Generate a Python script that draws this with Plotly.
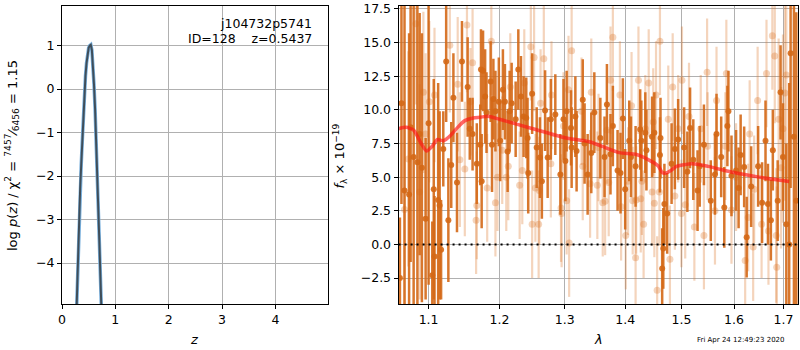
import plotly.graph_objects as go

# ---------------- p(z) panel data ----------------
pz_z = [0.26, 0.28, 0.30, 0.32, 0.34, 0.36, 0.38, 0.40, 0.42, 0.44, 0.46, 0.48, 0.50,
        0.52, 0.54, 0.56, 0.58, 0.60, 0.62, 0.64, 0.66, 0.68, 0.70, 0.72, 0.74, 0.76]
pz_logp = [-5.6, -4.7, -3.8, -3.0, -2.3, -1.75, -1.2, -0.6, -0.1, 0.3, 0.6, 0.85, 0.95,
           1.0, 1.02, 0.9, 0.55, 0.1, -0.45, -1.1, -1.85, -2.65, -3.5, -4.3, -5.1, -5.9]

# ---------------- spectrum data (dark = binned/primary) ----------------
dark_wave = [1.062, 1.064, 1.068, 1.074, 1.076, 1.080, 1.085, 1.088, 1.091, 1.096, 1.100,
             1.105, 1.107, 1.108, 1.113, 1.115, 1.117, 1.120, 1.124, 1.127, 1.131, 1.134,
             1.139, 1.146, 1.154, 1.157, 1.161, 1.167,
             1.172, 1.173, 1.174, 1.176, 1.179, 1.181, 1.187, 1.189, 1.191, 1.194, 1.199,
             1.201, 1.205, 1.208, 1.212, 1.215, 1.218, 1.224, 1.228, 1.232, 1.236, 1.240,
             1.242, 1.243, 1.249, 1.256, 1.261, 1.264, 1.269, 1.273, 1.278, 1.285,
             1.293, 1.298, 1.301, 1.303, 1.310, 1.311, 1.317, 1.319, 1.329, 1.332, 1.337,
             1.343, 1.348, 1.358, 1.365, 1.369, 1.375, 1.379, 1.387, 1.392, 1.396, 1.400,
             1.407, 1.410, 1.418,
             1.426, 1.428, 1.435, 1.437, 1.447, 1.451, 1.461, 1.462, 1.465, 1.467, 1.469,
             1.474, 1.482, 1.488, 1.494, 1.505, 1.511, 1.516, 1.522, 1.530, 1.534, 1.542,
             1.555, 1.563, 1.566,
             1.575, 1.581, 1.587, 1.589, 1.595, 1.604, 1.609, 1.613, 1.620, 1.625, 1.634,
             1.648, 1.656, 1.663, 1.668, 1.674, 1.678, 1.688, 1.694, 1.699, 1.706, 1.712,
             1.715, 1.722, 1.727]
dark_flux = [-2.5, 10.5, 4.0, 3.7, 8.7, 6.5, 6.1, 8.2, 5.7, 1.9, 9.0,
             -2.3, 4.1, -0.9, 3.3, 2.9, -0.4, 7.1, 13.6, 1.8, 5.9, 10.9,
             4.6, 13.6, 11.7, 8.6, 8.2, 6.0,
             7.4, 13.0, 4.7, 12.9, 11.0, 9.8, 12.1, 7.4, 10.8, 9.9, 10.6,
             7.7, 11.5, 10.6, 6.9, 9.9, 10.5, 9.3, 13.0, 11.0, 9.5, 9.4,
             7.9, 5.3, 11.2, 7.2, 6.45, 4.7, 9.95, 6.45, 9.3, 9.65,
             5.2, 9.3, 6.2, 9.9, 8.66, 7.2, 9.5, 6.94, 10.76, 7.5, 5.2,
             6.8, 9.8, 7.9, 6.5, 10.4, 6.7, 8.8, 5.5, 5.3, 9.35, 4.1,
             7.7, 6.5, 5.8,
             8.54, 7.7, 8.3, 7.0, 8.0, 8.3, 6.65, 7.9, -1.8, -0.3, 3.0,
             2.3, 6.0, 7.1, 7.8, 7.2, 5.4, 8.66, 6.3, 4.0, 5.8, 7.4,
             3.25, 5.2, 8.2,
             6.5, 2.75, 8.8, 9.9, 5.1, 5.5, 4.2, 6.65, 5.76, 0.54, 4.3,
             5.8, 3.1, 7.7, 3.0, 1.8, 7.0, 3.25, 11.3, 6.5, 1.5, 0.0,
             14.2, 8.0, 3.25]
dark_err = [4.5, 7.5, 14, 12, 10, 12, 12, 9, 10, 6, 12,
            4, 8.2, 4.5, 8.7, 7, 3.7, 2.8, 4.5, 4.6, 3.2, 3.3,
            3.7, 3, 3.7, 2.3, 2.7, 3,
            3, 3, 3.5, 3, 3.5, 3, 3, 3.5, 3, 3, 3.3,
            3, 3, 2.8, 3, 3, 3, 2.8, 3, 3, 3, 3,
            3, 3, 3, 3, 3, 2.8, 3, 3, 3, 3,
            3, 3, 3, 3, 2.8, 3, 3, 3, 3, 3, 3,
            3, 3, 3, 3, 3, 3, 3, 3, 3, 3, 3,
            3, 3, 3,
            3, 3, 3, 3, 3, 3, 2.8, 3, 3, 3, 3,
            3, 3, 3, 3, 3, 3, 3, 3, 3, 3, 3,
            3, 3, 3,
            3, 3, 3, 3, 3, 3, 3, 3, 3, 3, 3,
            3, 3, 3, 3, 3, 3, 3, 3.5, 4, 6, 12,
            10, 14, 14]

# ---------------- spectrum data (light = individual exposures) ----------------
light_wave = [1.068, 1.073, 1.083, 1.088, 1.093, 1.096, 1.101, 1.108, 1.129, 1.140,
              1.143, 1.150, 1.153, 1.158, 1.161, 1.166, 1.167,
              1.182, 1.188, 1.194, 1.197, 1.204, 1.210, 1.213, 1.216, 1.230, 1.234,
              1.237, 1.247, 1.249, 1.252, 1.254, 1.259, 1.260, 1.262, 1.267, 1.278, 1.279,
              1.294, 1.295, 1.298, 1.303, 1.306, 1.307, 1.311, 1.327, 1.329, 1.341, 1.343,
              1.353, 1.355, 1.362, 1.366, 1.369, 1.372, 1.375, 1.379, 1.391, 1.393, 1.401,
              1.405, 1.411, 1.413, 1.418, 1.419, 1.423,
              1.427, 1.429, 1.432, 1.435, 1.441, 1.447, 1.449, 1.451, 1.454, 1.456, 1.460,
              1.461, 1.476, 1.479, 1.484, 1.488, 1.494, 1.500, 1.501, 1.507, 1.514, 1.524,
              1.536, 1.542, 1.548, 1.549, 1.563, 1.566,
              1.583, 1.585, 1.595, 1.604, 1.622, 1.628, 1.631, 1.638, 1.640, 1.647, 1.655,
              1.665, 1.669, 1.677, 1.682, 1.685, 1.686, 1.690, 1.695, 1.699, 1.703, 1.706]
light_flux = [2.6, 6.35, 16.4, 3.9, 11.3, 8.2, 10.6, 11.1, 14.8, 11.9,
              6.3, 5.6, 16.3, 10.6, 13.5, 1.8, 2.9,
              4.2, 15.1, 3.1, 5.0, 7.0, 5.0, 5.8, 11.7, 4.4, 5.5,
              12.0, 14.7, 1.5, 13.9, 4.2, 1.5, 4.0, 10.5, 13.8, 6.0, 11.1,
              2.7, 2.3, 8.8, 3.25, 11.5, 0.1, 14.4, 9.9, 5.8, 4.5, 11.3,
              4.4, 7.2, 3.1, 3.2, 8.5, 4.6, 12.2, 15.4, 11.1, 2.8, 0.66,
              4.7, 10.3, 3.25, -1.0, 3.3, 12.2,
              3.4, 4.7, 1.5, 8.6, 12.0, 3.9, 9.1, 3.05, 11.1, -3.4, 3.9,
              15.1, 9.3, -1.1, 11.7, 3.6, 8.6, 2.3, 12.2, 2.95, 9.5, 1.3,
              8.6, 0.66, 12.8, 7.3, 2.5, 10.7,
              7.3, 12.7, 2.56, 5.0, -1.2, 2.0, 8.2, -0.2, 4.1, 10.7, 1.5,
              12.7, 1.0, 15.5, 14.0, 0.66, -1.7, 9.3, 5.7, 8.6, 11.25, 12.6]
light_err = [8, 8, 6, 8, 6, 6, 6, 5, 5, 5,
             5, 5, 5, 4, 4, 4, 4,
             4, 4, 4, 4, 4, 4, 4, 4, 4, 4,
             4, 4, 4, 4, 4, 4, 4, 4, 4, 4, 4,
             4, 4, 4, 4, 4, 4, 4, 4, 4, 4, 4,
             4, 4, 4, 4, 4, 4, 4, 4, 4, 4, 4,
             4, 4, 4, 4, 4, 4,
             4, 4, 4, 4, 4, 4, 4, 4, 4, 4, 4,
             4, 4, 4, 4, 4, 4, 4, 4, 4, 4, 4,
             4, 4, 4, 4, 4, 4,
             4, 4, 4, 4, 4, 4, 4, 4, 4, 4, 4,
             4, 4, 4, 5, 5, 6, 6, 6, 7, 8, 8]

# ---------------- model ----------------
model_wave = [1.060, 1.070, 1.080, 1.090, 1.097, 1.105, 1.112, 1.120, 1.130, 1.140, 1.150,
              1.162, 1.172, 1.183, 1.200, 1.250, 1.300, 1.340, 1.390, 1.418, 1.440, 1.458,
              1.465, 1.472, 1.480, 1.490, 1.520, 1.550, 1.600, 1.650, 1.690, 1.712]
model_flux = [8.6, 8.7, 8.5, 7.5, 6.95, 7.3, 7.8, 7.7, 8.1, 8.7, 9.2,
              9.4, 9.45, 9.53, 9.3, 8.6, 7.93, 7.63, 6.82, 6.7, 6.3, 5.83,
              5.34, 5.3, 5.47, 5.78, 6.0, 5.8, 5.34, 5.0, 4.78, 4.68]

left_xticks = [0, 1, 2, 3, 4]
left_yticks = [-4, -3, -2, -1, 0, 1]
right_xticks = [1.1, 1.2, 1.3, 1.4, 1.5, 1.6, 1.7]
right_xticktext = ["1.1", "1.2", "1.3", "1.4", "1.5", "1.6", "1.7"]
right_yticks = [-2.5, 0.0, 2.5, 5.0, 7.5, 10.0, 12.5, 15.0, 17.5]

FONT = "DejaVu Sans"
DARK = "rgba(212,104,22,0.9)"
LIGHT = "rgba(218,112,34,0.3)"

fig = go.Figure()

# p(z)
fig.add_trace(go.Scatter(x=pz_z, y=pz_logp, mode="lines", xaxis="x", yaxis="y",
                         line=dict(color="rgb(120,175,220)", width=3.5), hoverinfo="skip"))
fig.add_trace(go.Scatter(x=pz_z, y=pz_logp, mode="lines", xaxis="x", yaxis="y",
                         line=dict(color="rgba(45,45,45,0.75)", width=2), hoverinfo="skip"))

# spectrum
fig.add_trace(go.Scatter(x=light_wave, y=light_flux, mode="markers", xaxis="x2", yaxis="y2",
                         marker=dict(color=LIGHT, size=7, line=dict(width=0)),
                         error_y=dict(type="data", array=light_err, color=LIGHT,
                                      thickness=2.2, width=0)))
fig.add_trace(go.Scatter(x=dark_wave, y=dark_flux, mode="markers", xaxis="x2", yaxis="y2",
                         marker=dict(color=DARK, size=6, line=dict(width=0)),
                         error_y=dict(type="data", array=dark_err, color=DARK,
                                      thickness=2.5, width=0)))
fig.add_trace(go.Scatter(x=model_wave, y=model_flux, mode="lines", xaxis="x2", yaxis="y2",
                         line=dict(color="rgba(255,20,20,0.65)", width=3.5, shape="spline",
                                   smoothing=0.6),
                         hoverinfo="skip"))

fig.add_shape(type="line", xref="x2 domain", yref="y2", x0=0, x1=1, y0=0, y1=0,
              line=dict(color="black", width=2, dash="2px,4px"))

axis_common = dict(showline=True, linecolor="black", linewidth=1, mirror=True,
                   showgrid=True, gridcolor="#b0b0b0", gridwidth=1, zeroline=False,
                   ticks="outside", ticklen=4, tickcolor="black",
                   ticklabeloverflow="allow",
                   tickfont=dict(family=FONT, size=12.5, color="black"))

fig.update_layout(
    width=800, height=350,
    margin=dict(l=62, r=1, t=4, b=46),
    paper_bgcolor="white", plot_bgcolor="white",
    showlegend=False,
    xaxis=dict(domain=[0, 0.3609], range=[0, 4.98], tickvals=left_xticks, **axis_common),
    yaxis=dict(domain=[0, 1], range=[-4.94, 1.91], tickvals=left_yticks, **axis_common),
    xaxis2=dict(domain=[0.4573, 1.0], type="log", range=[0.0254, 0.2382],
                tickvals=right_xticks, ticktext=right_xticktext, anchor="y2", **axis_common),
    yaxis2=dict(domain=[0, 1], range=[-4.43, 17.72], tickvals=right_yticks,
                tickformat=".1f", anchor="x2", **axis_common),
)

ann_font = dict(family=FONT, size=12.5, color="black")
fig.add_annotation(xref="paper", yref="paper", x=0.342, y=0.94, xanchor="right", yanchor="middle",
                   text="j104732p5741", showarrow=False, font=ann_font)
fig.add_annotation(xref="paper", yref="paper", x=0.342, y=0.89, xanchor="right", yanchor="middle",
                   text="ID=128\u00a0\u00a0\u00a0\u00a0z=0.5437", showarrow=False, font=ann_font)
fig.add_annotation(xref="paper", yref="paper", x=-0.0678, y=0.497, xanchor="center", yanchor="middle",
                   textangle=-90, showarrow=False, font=dict(family=FONT, size=13, color="black"),
                   text="log <i>p</i>(<i>z</i>) / χ<sup>2</sup> = <sup>7457</sup>⁄<sub>6456</sub> = 1.15")
fig.add_annotation(xref="paper", yref="paper", x=0.3772, y=0.497, xanchor="center", yanchor="middle",
                   textangle=-90, showarrow=False, font=dict(family=FONT, size=13, color="black"),
                   text="<i>f</i><sub>λ</sub> × 10<sup>−19</sup>")
fig.add_annotation(xref="paper", yref="paper", x=0.1805, y=-0.12, xanchor="center", yanchor="middle",
                   text="<i>z</i>", showarrow=False, font=dict(family=FONT, size=13, color="black"))
fig.add_annotation(xref="paper", yref="paper", x=0.7286, y=-0.12, xanchor="center", yanchor="middle",
                   text="<i>λ</i>", showarrow=False, font=dict(family=FONT, size=13, color="black"))
fig.add_annotation(xref="paper", yref="paper", x=0.985, y=-0.12, xanchor="right", yanchor="middle",
                   text="Fri Apr 24 12:49:23 2020", showarrow=False,
                   font=dict(family=FONT, size=7, color="black"))

fig.write_html("out.html", config={"displayModeBar": False},
               post_script="document.body.style.margin='0';document.body.style.overflow='hidden';")
